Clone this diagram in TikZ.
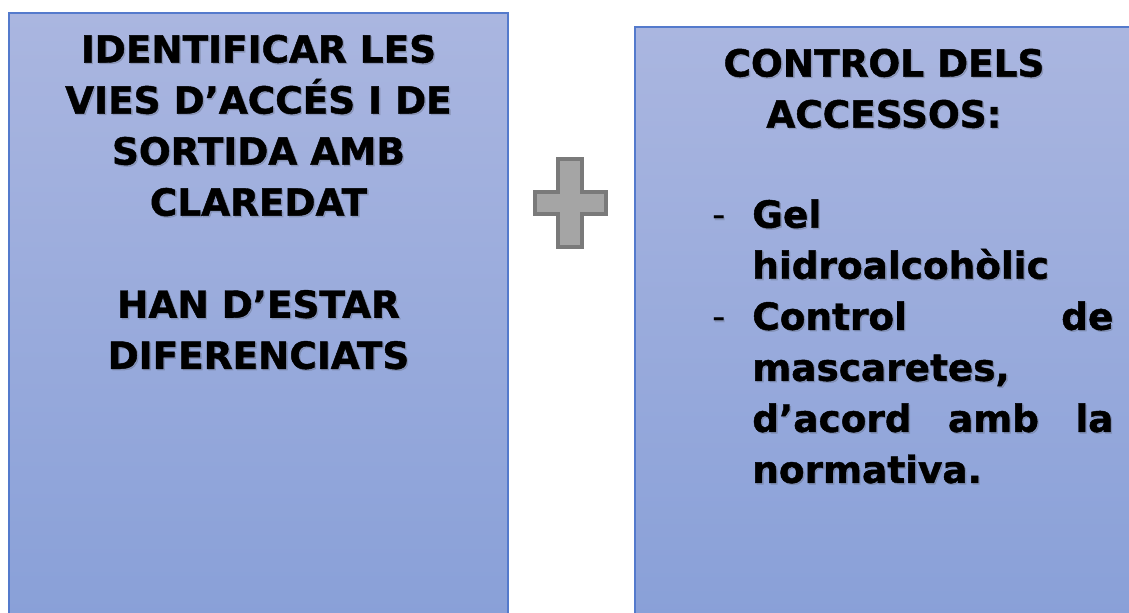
\documentclass[tikz,border=0pt]{standalone}
\usepackage{fontspec}
\setmainfont[BoldFeatures={FakeBold=1.2}]{DejaVu Sans}
\usetikzlibrary{positioning}
\definecolor{boxtop}{RGB}{170,182,224}
\definecolor{boxbot}{RGB}{137,160,216}
\definecolor{boxline}{RGB}{84,122,204}
\definecolor{plusfill}{RGB}{165,165,165}
\definecolor{plusline}{RGB}{122,122,122}
\definecolor{textshade}{RGB}{100,108,130}

\newcommand{\viestext}{IDENTIFICAR LES\\VIES D’ACCÉS I DE\\SORTIDA AMB\\CLAREDAT\\[36.3pt]HAN D’ESTAR\\DIFERENCIATS}
\newcommand{\controltext}{CONTROL DELS\\ACCESSOS:}
\newcommand{\itemstext}{\makebox[1cm][l]{\mdseries -}Gel\\
	\hspace*{1cm}hidroalcohòlic\\
	\makebox[1cm][l]{\mdseries -}\makebox[9.025cm][s]{Control\hfill de}\\
	\hspace*{1cm}mascaretes,\\
	\hspace*{1cm}\makebox[9.025cm][s]{d’acord\hfill amb\hfill la}\\
	\hspace*{1cm}normativa.}

\begin{document}
\begin{tikzpicture}[x=0.025cm,y=0.025cm,
	panel/.style={draw=boxline,line width=1pt,top color=boxtop,bottom color=boxbot},
	bigtext/.style={font=\bfseries\fontsize{26.6}{36.3}\selectfont,inner sep=0pt},
	shade/.style={bigtext,text=textshade,opacity=0.35,xshift=1pt,yshift=-1pt},
	plussign/.style={draw=plusline,fill=plusfill,line width=2.2pt}]
	\useasboundingbox (0,0) rectangle (1129,612);
	% panels
	\path[panel] (9,-5) rectangle (508,599);
	\path[panel] (635,-5) rectangle (1140,585);
	% plus sign
	\draw[plussign] (558,453) -- (582,453) -- (582,420) -- (606,420) -- (606,398)
		-- (582,398) -- (582,365) -- (558,365) -- (558,398) -- (535,398)
		-- (535,420) -- (558,420) -- cycle;
	% text shadows
	\node[shade,align=center,anchor=north] (vies-sh) at (258.5,577.5) {\viestext};
	\node[shade,align=center,anchor=north] (control-sh) at (884,563.5) {\controltext};
	\node[shade,align=left,text width=10.025cm,anchor=north west] (items-sh) at (712,413) {\itemstext};
	% texts
	\node[bigtext,align=center,anchor=north] (vies) at (258.5,577.5) {\viestext};
	\node[bigtext,align=center,anchor=north] (control) at (884,563.5) {\controltext};
	\node[bigtext,align=left,text width=10.025cm,anchor=north west] (items) at (712,413) {\itemstext};
\end{tikzpicture}
\end{document}
